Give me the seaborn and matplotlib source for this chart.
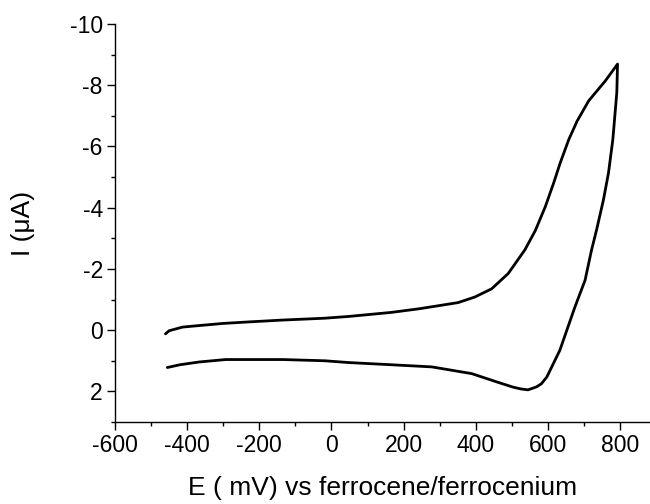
import matplotlib
matplotlib.use("Agg")
import matplotlib.pyplot as plt
import seaborn as sns
import pandas as pd
from matplotlib.ticker import MultipleLocator

# Forward (anodic) scan: potential in mV, current in uA
fwd_E = [-460, -450, -413, -367, -300, -228, -135, -19, 50, 166, 244, 351,
         397, 444, 490, 536, 565, 593, 616, 634, 658, 681, 713, 759, 793]
fwd_I = [0.12, 0.02, -0.10, -0.15, -0.22, -0.27, -0.33, -0.39, -0.45, -0.58,
         -0.70, -0.90, -1.08, -1.35, -1.85, -2.62, -3.25, -4.04, -4.81, -5.46,
         -6.23, -6.83, -7.49, -8.14, -8.69]

# Reverse (cathodic) scan
rev_E = [793, 791, 780, 768, 754, 735, 721, 703, 675, 633, 597, 582, 569, 545,
         525, 503, 458, 389, 278, 166, 50, -19, -135, -293, -367, -420, -455]
rev_I = [-8.69, -7.76, -6.23, -5.14, -4.26, -3.28, -2.62, -1.63, -0.76, 0.66,
         1.53, 1.75, 1.85, 1.95, 1.92, 1.86, 1.69, 1.42, 1.20, 1.13, 1.06, 1.00,
         0.96, 0.96, 1.04, 1.13, 1.22]

x_ticks = [-600, -400, -200, 0, 200, 400, 600, 800]
y_ticks = [-10, -8, -6, -4, -2, 0, 2]
x_label = "E ( mV) vs ferrocene/ferrocenium"
y_label = "I (\u03bcA)"

sns.set_style("ticks")
plt.rcParams["font.family"] = ["Liberation Sans", "DejaVu Sans"]
plt.rcParams["axes.unicode_minus"] = False
plt.rcParams["text.color"] = "black"
plt.rcParams["axes.labelcolor"] = "black"
plt.rcParams["xtick.color"] = "black"
plt.rcParams["ytick.color"] = "black"

df = pd.DataFrame({
    "E": fwd_E + rev_E,
    "I": fwd_I + rev_I,
})

fig = plt.figure(figsize=(6.5, 5.04), dpi=100)
ax = fig.add_axes([115 / 650, 82 / 504, 535 / 650, 398 / 504])

sns.lineplot(data=df, x="E", y="I", sort=False, estimator=None,
             color="black", linewidth=2.0, ax=ax)

ax.set_xlim(-600, 883)
ax.set_ylim(3, -10)
ax.set_xticks(x_ticks)
ax.set_yticks(y_ticks)
ax.xaxis.set_minor_locator(MultipleLocator(100))
ax.yaxis.set_minor_locator(MultipleLocator(1))

for s in ["top", "right"]:
    ax.spines[s].set_visible(False)
for s in ["left", "bottom"]:
    ax.spines[s].set_linewidth(1.0)
    ax.spines[s].set_color("black")

ax.tick_params(which="major", direction="out", length=5.8, width=1.0,
               labelsize=16.5, colors="black", labelcolor="black", pad=3)
ax.tick_params(which="minor", direction="out", length=3.0, width=1.0,
               colors="black")

ax.set_xlabel(x_label, fontsize=19, color="black")
ax.set_ylabel(y_label, fontsize=19, color="black")
ax.xaxis.set_label_coords(0.5, -0.135)
ax.yaxis.set_label_coords(-0.150, 0.5)

fig.savefig("out.png", dpi=100)
